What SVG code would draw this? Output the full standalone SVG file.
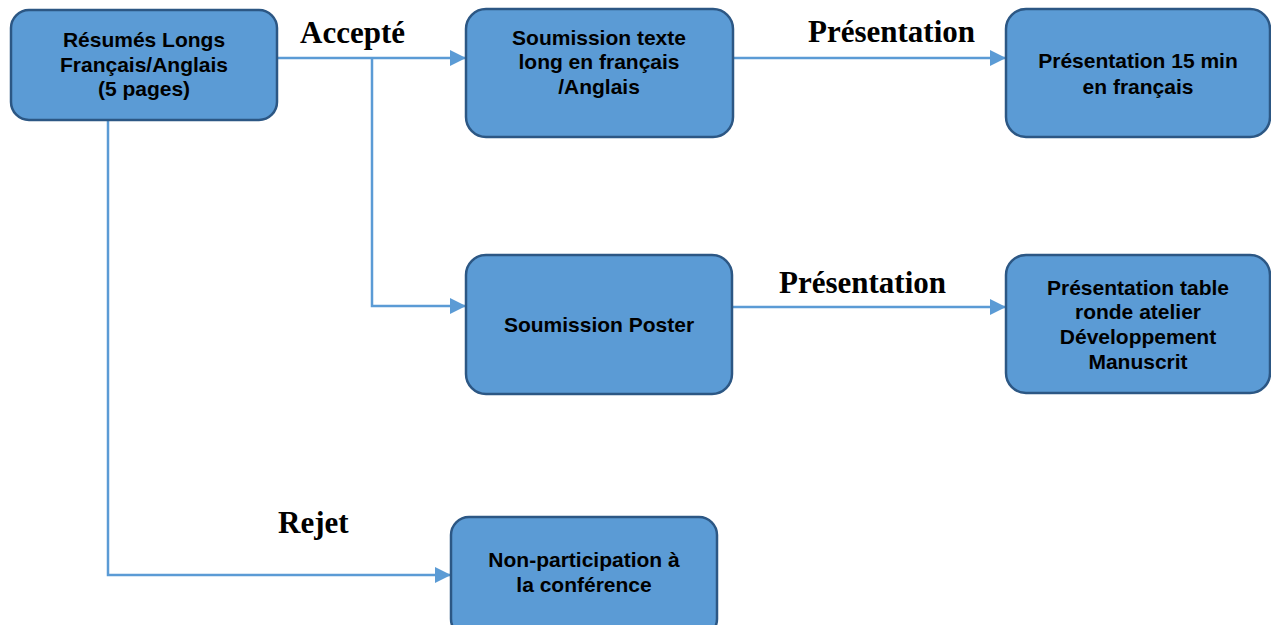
<svg xmlns="http://www.w3.org/2000/svg" width="1271" height="625" viewBox="0 0 1271 625">
<style>
.box{fill:#5B9BD5;stroke:#2C5784;stroke-width:2.5}
.t{font-family:"Liberation Sans",Arial,sans-serif;font-weight:bold;font-size:21px;fill:#000;text-anchor:middle}
.lbl{font-family:"Liberation Serif","Times New Roman",serif;font-weight:bold;font-size:31px;fill:#000}
.c{fill:none;stroke:#5B9BD5;stroke-width:2.5}
</style>
<defs>
<marker id="ah" viewBox="0 0 10 10" refX="10" refY="5" markerWidth="6.5" markerHeight="6.5" markerUnits="strokeWidth" orient="auto">
<path d="M0,0 L10,5 L0,10 z" fill="#5B9BD5"/>
</marker>
</defs>
<g id="connectors">
<path class="c" d="M277,58 H466" marker-end="url(#ah)"/>
<path class="c" d="M372,58 V306 H466" marker-end="url(#ah)"/>
<path class="c" d="M108,120 V575 H451" marker-end="url(#ah)"/>
<path class="c" d="M733,58 H1006" marker-end="url(#ah)"/>
<path class="c" d="M732,307 H1006" marker-end="url(#ah)"/>
<text class="lbl" x="300" y="43">Accepté</text>
<text class="lbl" x="808" y="42">Présentation</text>
<text class="lbl" x="779" y="293">Présentation</text>
<text class="lbl" x="278" y="533">Rejet</text>
</g>
<g id="n1">
<rect class="box" x="11" y="10" width="266" height="110" rx="18"/>
<text class="t" x="144" y="47">Résumés Longs</text>
<text class="t" x="144" y="72">Français/Anglais</text>
<text class="t" x="144" y="96">(5 pages)</text>
</g>
<g id="n2">
<rect class="box" x="466" y="9" width="267" height="128" rx="20"/>
<text class="t" x="599" y="45">Soumission texte</text>
<text class="t" x="599" y="69">long en français</text>
<text class="t" x="599" y="94">/Anglais</text>
</g>
<g id="n3">
<rect class="box" x="1006" y="9" width="264" height="128" rx="20"/>
<text class="t" x="1138" y="68">Présentation 15 min</text>
<text class="t" x="1138" y="94">en français</text>
</g>
<g id="n4">
<rect class="box" x="466" y="255" width="266" height="139" rx="20"/>
<text class="t" x="599" y="332">Soumission Poster</text>
</g>
<g id="n5">
<rect class="box" x="1006" y="255" width="264" height="138" rx="20"/>
<text class="t" x="1138" y="295">Présentation table</text>
<text class="t" x="1138" y="319">ronde atelier</text>
<text class="t" x="1138" y="344">Développement</text>
<text class="t" x="1138" y="369">Manuscrit</text>
</g>
<g id="n6">
<rect class="box" x="451" y="517" width="266" height="120" rx="18"/>
<text class="t" x="584" y="567">Non-participation à</text>
<text class="t" x="584" y="592">la conférence</text>
</g>
</svg>
